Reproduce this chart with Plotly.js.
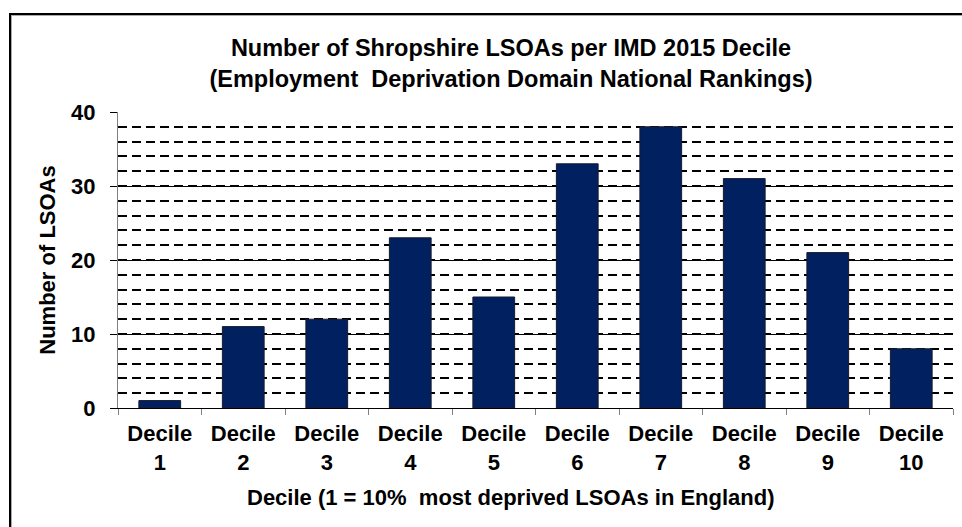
<!DOCTYPE html>
<html>
<head>
<meta charset="utf-8">
<script src="https://cdn.plot.ly/plotly-3.0.1.min.js"></script>
<style>
  html, body { margin: 0; padding: 0; background: #fff; }
  #wrap { position: relative; width: 962px; height: 527px; overflow: hidden; }
  #chart { position: absolute; left: 0; top: 0; width: 962px; height: 527px; }
  #frame { position: absolute; left: 9px; top: 13px; width: 1200px; height: 800px;
           border-left: 2px solid #000; border-top: 2px solid #000;
           box-shadow: inset 1px 1px 0 #aaa; pointer-events: none; }
</style>
</head>
<body>
<div id="wrap">
  <div id="chart"></div>
  <div id="frame"></div>
</div>
<script>
const categories = ["Decile<br>1", "Decile<br>2", "Decile<br>3", "Decile<br>4", "Decile<br>5",
                    "Decile<br>6", "Decile<br>7", "Decile<br>8", "Decile<br>9", "Decile<br>10"];
const lsoaCounts = [1, 11, 12, 23, 15, 33, 38, 31, 21, 8];
const yTickValues = [0, 10, 20, 30, 40];
const yTickLabels = ["0", "10", "20", "30", "40"];

const FONT = "Liberation Sans, Arial, sans-serif";

const trace = {
  type: "bar",
  x: categories,
  y: lsoaCounts,
  marker: { color: "#002060", line: { color: "#1a1a2a", width: 1 } },
  hoverinfo: "x+y"
};

const layout = {
  width: 962,
  height: 527,
  margin: { l: 118, r: 9, t: 112, b: 119 },
  paper_bgcolor: "#ffffff",
  plot_bgcolor: "#ffffff",
  showlegend: false,
  bargap: 0.5,
  font: { family: FONT, color: "#000", size: 20 },
  title: {
    text: "<b>Number of Shropshire LSOAs per IMD 2015 Decile<br>(Employment  Deprivation Domain National Rankings)</b>",
    font: { family: FONT, size: 23.5, color: "#000" },
    x: 511 / 962,
    xref: "container",
    xanchor: "center",
    y: 1 - 56 / 527,
    yref: "container",
    yanchor: "middle"
  },
  xaxis: {
    type: "category",
    tickson: "boundaries",
    ticks: "outside",
    ticklen: 6,
    tickcolor: "#808080",
    showline: true,
    linecolor: "#000",
    linewidth: 1,
    showgrid: false,
    ticklabelstandoff: 6,
    tickfont: { family: FONT, size: 22, color: "#000", weight: "bold" },
    fixedrange: true
  },
  yaxis: {
    range: [0, 40],
    tickvals: yTickValues,
    ticktext: yTickLabels,
    ticks: "outside",
    ticklen: 7,
    tickcolor: "#000",
    showline: true,
    linecolor: "#808080",
    linewidth: 1,
    showgrid: true,
    gridcolor: "#000",
    gridwidth: 1,
    zeroline: false,
    ticklabelstandoff: 10,
    tickfont: { family: FONT, size: 22, color: "#000", weight: "bold" },
    minor: {
      dtick: 2,
      showgrid: true,
      gridcolor: "#000",
      gridwidth: 2,
      griddash: "9px,5px",
      ticks: ""
    },
    title: {
      text: "<b>Number of LSOAs</b>",
      font: { family: FONT, size: 22, color: "#000" },
      standoff: 9
    },
    fixedrange: true
  },
  annotations: [
    {
      text: "<b>Decile (1 = 10%  most deprived LSOAs in England)</b>",
      xref: "paper", yref: "paper",
      x: (511 - 118) / (953 - 118),
      y: -(497 - 408) / (408 - 112),
      xanchor: "center", yanchor: "middle",
      showarrow: false,
      font: { family: FONT, size: 22, color: "#000" }
    }
  ]
};

Plotly.newPlot("chart", [trace], layout, { displayModeBar: false, staticPlot: true });
</script>
</body>
</html>
